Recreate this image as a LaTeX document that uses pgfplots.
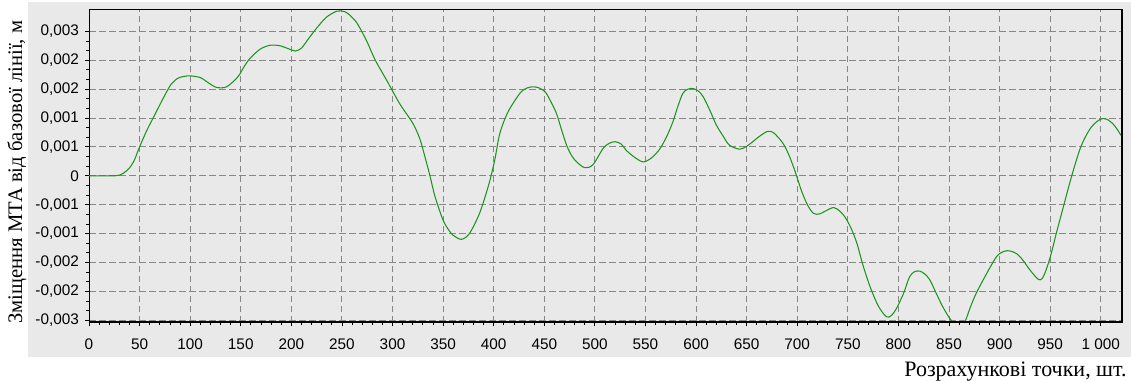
\documentclass[border=0pt]{standalone}
\usepackage{fontspec}
\setmainfont{Liberation Serif}
\newfontfamily\ticksfont{Liberation Sans}
\usepackage{pgfplots}
\pgfplotsset{compat=1.18}
\definecolor{bggray}{RGB}{233,233,233}
\definecolor{curvegreen}{RGB}{30,150,30}
\definecolor{gridgray}{RGB}{135,135,135}

\pgfplotstableread{
x y
0 0
20 0
30 0.00001
38 0.0001
44 0.00024
50 0.0005
57 0.00078
64 0.00102
73 0.00133
81 0.00158
88 0.00169
94 0.00172
100 0.00173
110 0.0017
118 0.00161
126 0.00153
136 0.00154
147 0.00171
153 0.00188
159 0.00203
169 0.00219
179 0.00226
189 0.00225
197 0.0022
204 0.00216
210 0.00221
216 0.00235
222 0.00249
229 0.00264
235 0.00275
245 0.00285
253 0.00284
259 0.00276
265 0.00264
274 0.00235
283 0.002
294 0.00166
307 0.00125
320 0.00091
327 0.00064
332 0.00033
337 0.0
342 -0.00036
350 -0.00077
356 -0.00095
360 -0.00103
368 -0.0011
376 -0.001
386 -0.00065
395 -0.00016
401 0.00027
406 0.00073
414 0.0011
426 0.00143
433 0.00152
439 0.00154
445 0.00152
451 0.00145
456 0.0013
462 0.00108
467 0.0008
472 0.00053
477 0.00035
482 0.00024
490 0.00014
498 0.00019
508 0.00047
514 0.00056
520 0.00059
526 0.00055
531 0.00044
540 0.00031
548 0.00024
556 0.00031
564 0.00046
571 0.00068
577 0.00093
582 0.0012
587 0.00143
592 0.0015
597 0.00151
602 0.00147
607 0.00137
614 0.00112
620 0.00088
627 0.00068
633 0.00053
643 0.00046
650 0.00051
656 0.00059
664 0.0007
671 0.00077
677 0.00074
686 0.00056
692 0.00035
698 0.00007
704 -0.00025
710 -0.0005
716 -0.00065
722 -0.00066
729 -0.0006
736 -0.00055
742 -0.00061
747 -0.00071
753 -0.0009
759 -0.00117
765 -0.00155
772 -0.00192
780 -0.00225
788 -0.00244
793 -0.00242
798 -0.0023
805 -0.00204
811 -0.00175
816 -0.00166
821 -0.00165
826 -0.0017
831 -0.0018
837 -0.00202
843 -0.00224
850 -0.00245
857 -0.0026
861 -0.00262
866 -0.00252
871 -0.00228
877 -0.00203
887 -0.0017
897 -0.0014
904 -0.00131
910 -0.0013
917 -0.00135
923 -0.00146
930 -0.00163
938 -0.00179
942 -0.00178
946 -0.00163
951 -0.00135
956 -0.001
963 -0.00054
971 -0.00002
979 0.00044
985 0.00068
991 0.00085
997 0.00095
1002 0.00099
1007 0.00097
1012 0.0009
1016 0.00081
1020 0.0007
}\datatable

\begin{document}
\begin{tikzpicture}
\useasboundingbox (0,0) rectangle (848.25pt,285.75pt);
\fill[white] (0,0) rectangle (848.25pt,285.75pt);
\fill[bggray] (21pt,18pt) rectangle (848.25pt,284.25pt);
\begin{axis}[
  at={(66.75pt,43.875pt)}, anchor=south west,
  scale only axis, width=774.75pt, height=234.375pt,
  xmin=0, xmax=1021, ymin=-0.00254, ymax=0.00287,
  scaled y ticks=false,
  axis background/.style={fill=bggray},
  axis line style={black, line width=0.75pt},
  xtick={0,50,...,1000},
  xticklabels={0,50,100,150,200,250,300,350,400,450,500,550,600,650,700,750,800,850,900,950,1 000},
  ytick={-0.0025,-0.002,-0.0015,-0.001,-0.0005,0,0.0005,0.001,0.0015,0.002,0.0025},
  yticklabels={{-0,003},{-0,002},{-0,002},{-0,001},{-0,001},{0},{0,001},{0,001},{0,002},{0,002},{0,003}},
  minor x tick num=4,
  minor y tick num=2,
  tick pos=left,
  tick align=outside,
  major tick length=3pt,
  minor tick length=2pt,
  tick style={black, line width=0.6pt},
  grid=major,
  major grid style={gridgray, line width=0.75pt, dash pattern=on 5pt off 2.5pt},
  ticklabel style={font=\ticksfont\fontsize{11.5}{13}\selectfont},
  xticklabel style={yshift=-6pt},
  yticklabel style={xshift=-1pt},
  clip=true,
]
\addplot[curvegreen, line width=0.8pt, smooth, tension=0.5] table[x=x,y=y] {\datatable};
\draw[black, line width=2.25pt] (rel axis cs:0,0) -- (rel axis cs:1,0);
\draw[black, line width=1.5pt] (rel axis cs:1,0) -- (rel axis cs:1,1);
\end{axis}
\node[rotate=90, font=\fontsize{15.5}{18}\selectfont] at (12.75pt,156.5pt) {Зміщення МТА від базової лінії, м};
\node[anchor=base east, font=\fontsize{16.5}{19}\selectfont] at (848.5pt,3.5pt) {Розрахункові точки, шт.};
\end{tikzpicture}
\end{document}
